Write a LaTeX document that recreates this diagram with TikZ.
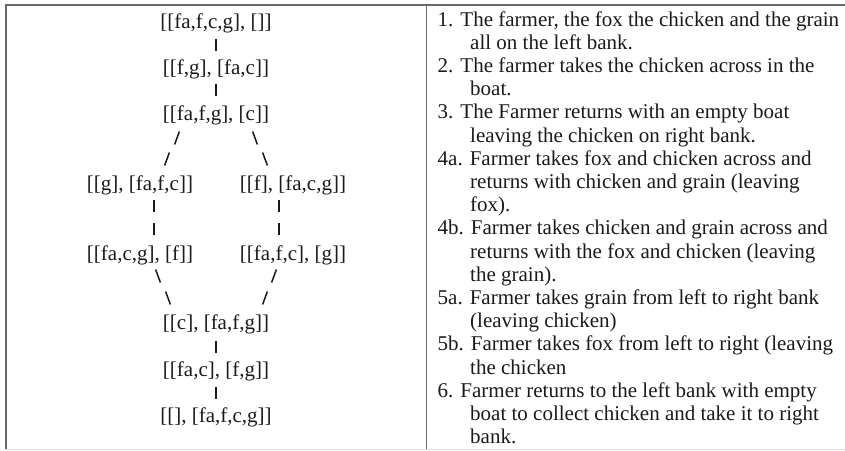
\documentclass[tikz,border=0pt]{standalone}
\usepackage{fontspec}
\setmainfont{Liberation Serif}
\definecolor{ink}{HTML}{1A1A1A}
\definecolor{rulecol}{HTML}{6A6A6A}
\definecolor{lightrule}{HTML}{DDDDDD}
\tikzset{
  txt/.style={anchor=base, inner sep=0pt, font=\fontsize{21}{23.2}\selectfont, text=ink},
  ltxt/.style={txt, anchor=base west},
  stroke/.style={draw=ink, line width=1.5pt}
}
\newcommand{\vbar}[1]{\draw[stroke] (#1) ++(0,-6) -- ++(0,12);}
\newcommand{\fslash}[1]{\draw[stroke] (#1) ++(-2.4,6.5) -- ++(4.8,-13);}
\newcommand{\bslash}[1]{\draw[stroke] (#1) ++(-2.4,-6.5) -- ++(4.8,13);}
\begin{document}
\begin{tikzpicture}[x=1pt,y=-1pt]
\useasboundingbox (0,0) rectangle (845,450);
% table rules
\draw[lightrule, line width=1.5pt] (5,449.3) -- (845,449.3);
\draw[rulecol, line width=2pt] (5,5) -- (845,5);
\draw[rulecol, line width=2pt] (6,4) -- (6,449);
\draw[rulecol, line width=1.4pt] (426.5,5) -- (426.5,449);
% left column: state tree (baselines 28 + 23.2 i)
\node[txt] (s1) at (216,28.0) {[[fa,f,c,g], []]};
\node[txt] (s2) at (216,74.4) {[[f,g], [fa,c]]};
\node[txt] (s3) at (216,120.8) {[[fa,f,g], [c]]};
\node[txt] (s4l) at (140,190.4) {[[g], [fa,f,c]]};
\node[txt] (s4r) at (293,190.4) {[[f], [fa,c,g]]};
\node[txt] (s5l) at (140,260.0) {[[fa,c,g], [f]]};
\node[txt] (s5r) at (293,260.0) {[[fa,f,c], [g]]};
\node[txt] (s6) at (216,329.6) {[[c], [fa,f,g]]};
\node[txt] (s7) at (216,376.0) {[[fa,c], [f,g]]};
\node[txt] (s8) at (216,422.4) {[[], [fa,f,c,g]]};
% ascii-style links
\coordinate (b1) at (216,45);   \vbar{b1}
\coordinate (b2) at (216,90);   \vbar{b2}
\coordinate (d1) at (177,138);  \fslash{d1}
\coordinate (d2) at (255,138);  \bslash{d2}
\coordinate (d3) at (167,159);  \fslash{d3}
\coordinate (d4) at (265,159);  \bslash{d4}
\coordinate (b3) at (154,206);  \vbar{b3}
\coordinate (b4) at (279,206);  \vbar{b4}
\coordinate (b5) at (154,229);  \vbar{b5}
\coordinate (b6) at (279,229);  \vbar{b6}
\coordinate (d5) at (158,276);  \bslash{d5}
\coordinate (d6) at (274,276);  \fslash{d6}
\coordinate (d7) at (168,298);  \bslash{d7}
\coordinate (d8) at (265,298);  \fslash{d8}
\coordinate (b7) at (216,347);  \vbar{b7}
\coordinate (b8) at (216,393);  \vbar{b8}
% right column: explanations (baselines 26 + 23.2 i)
\node[ltxt] (r1)  at (437.5,26.0)  {1. The farmer, the fox the chicken and the grain};
\node[ltxt] (r2)  at (470,49.2)    {all on the left bank.};
\node[ltxt] (r3)  at (437.5,72.4)  {2. The farmer takes the chicken across in the};
\node[ltxt] (r4)  at (470,95.6)    {boat.};
\node[ltxt] (r5)  at (437.5,118.8) {3. The Farmer returns with an empty boat};
\node[ltxt] (r6)  at (470,142.0)   {leaving the chicken on right bank.};
\node[ltxt] (r7)  at (437.5,165.2) {4a. Farmer takes fox and chicken across and};
\node[ltxt] (r8)  at (470,188.4)   {returns with chicken and grain (leaving};
\node[ltxt] (r9)  at (470,211.6)   {fox).};
\node[ltxt] (r10) at (437.5,234.8) {4b. Farmer takes chicken and grain across and};
\node[ltxt] (r11) at (470,258.0)   {returns with the fox and chicken (leaving};
\node[ltxt] (r12) at (470,281.2)   {the grain).};
\node[ltxt] (r13) at (437.5,304.4) {5a. Farmer takes grain from left to right bank};
\node[ltxt] (r14) at (470,327.6)   {(leaving chicken)};
\node[ltxt] (r15) at (437.5,350.8) {5b. Farmer takes fox from left to right (leaving};
\node[ltxt] (r16) at (470,374.0)   {the chicken};
\node[ltxt] (r17) at (437.5,397.2) {6. Farmer returns to the left bank with empty};
\node[ltxt] (r18) at (470,420.4)   {boat to collect chicken and take it to right};
\node[ltxt] (r19) at (470,443.6)   {bank.};
\end{tikzpicture}
\end{document}
